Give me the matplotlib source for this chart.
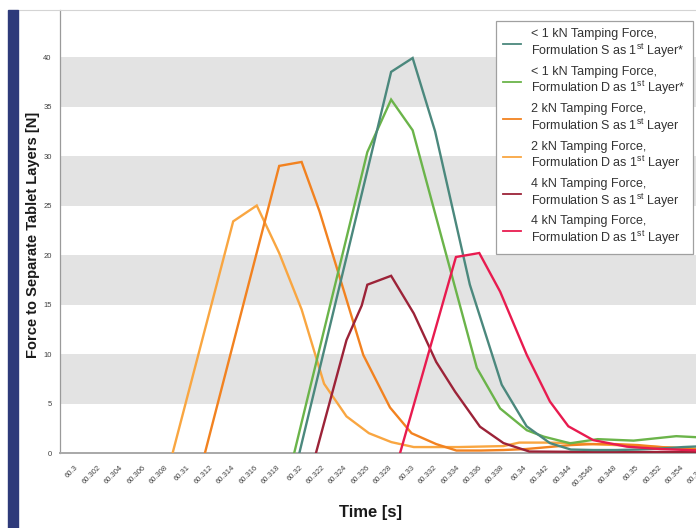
import numpy as np
import matplotlib
matplotlib.use("Agg")
import matplotlib.pyplot as plt
from matplotlib.patches import Rectangle
from matplotlib.lines import Line2D

plt.rcParams['font.family'] = ['Liberation Sans', 'DejaVu Sans']
plt.rcParams['mathtext.fontset'] = 'custom'
plt.rcParams['mathtext.rm'] = 'Liberation Sans'

# category labels on the time axis (as printed, incl. 60.3546)
tick_labels = ['60.3', '60.302', '60.304', '60.306', '60.308', '60.31', '60.312',
               '60.314', '60.316', '60.318', '60.32', '60.322', '60.324', '60.326',
               '60.328', '60.33', '60.332', '60.334', '60.336', '60.338', '60.34',
               '60.342', '60.344', '60.3546', '60.348', '60.35', '60.352', '60.354',
               '60.356']

# <1 kN, formulation S
t_1s = [60.3198, 60.32798, 60.3299, 60.3319, 60.335, 60.33784, 60.34006, 60.34214,
        60.344, 60.346, 60.348, 60.35, 60.352, 60.354, 60.356]
f_1s = [0, 38.5, 39.9, 32.5, 17.0, 6.9, 2.7, 1.0, 0.35, 0.3, 0.3, 0.35, 0.45, 0.6, 0.7]

# <1 kN, formulation D
t_1d = [60.31934, 60.32586, 60.32798, 60.3299, 60.33562, 60.3377, 60.34008, 60.3416,
        60.34394, 60.3464, 60.3496, 60.3534, 60.356]
f_1d = [0, 30.4, 35.7, 32.6, 8.6, 4.5, 2.3, 1.65, 0.98, 1.4, 1.25, 1.7, 1.55]

# 2 kN, formulation S
t_2s = [60.31138, 60.318, 60.32, 60.3216, 60.3236, 60.3255, 60.32788, 60.3298, 60.332,
        60.3338, 60.336, 60.338, 60.34, 60.342, 60.344, 60.346, 60.348, 60.35, 60.352,
        60.354, 60.356]
f_2s = [0, 29.0, 29.4, 24.4, 17.0, 9.9, 4.6, 2.0, 0.9, 0.25, 0.25, 0.3, 0.4, 0.6, 0.8,
        0.9, 0.9, 0.8, 0.6, 0.45, 0.3]

# 2 kN, formulation D
t_2d = [60.3085, 60.3139, 60.316, 60.318, 60.32, 60.322, 60.324, 60.326, 60.328, 60.33,
        60.332, 60.334, 60.336, 60.338, 60.3394, 60.342, 60.344, 60.346, 60.348, 60.35,
        60.352, 60.354, 60.356]
f_2d = [0, 23.4, 25.0, 20.2, 14.5, 7.0, 3.7, 2.0, 1.1, 0.6, 0.6, 0.6, 0.65, 0.7, 1.05,
        1.05, 1.0, 0.9, 0.8, 0.7, 0.6, 0.5, 0.4]

# 4 kN, formulation S
t_4s = [60.32128, 60.324, 60.32536, 60.32586, 60.32798, 60.33, 60.332, 60.33368,
        60.3359, 60.338, 60.3403, 60.344, 60.348, 60.352, 60.356]
f_4s = [0, 11.4, 14.9, 17.0, 17.9, 14.1, 9.2, 6.2, 2.66, 1.0, 0.15, 0.12, 0.1, 0.1, 0.08]

# 4 kN, formulation D
t_4d = [60.32878, 60.33376, 60.33584, 60.3377, 60.34008, 60.34214, 60.34378, 60.346,
        60.349, 60.352, 60.356]
f_4d = [0, 19.8, 20.2, 16.3, 9.9, 5.2, 2.7, 1.3, 0.64, 0.4, 0.23]

sup = r'1$^{\rm st}$'
labels = ['< 1 kN Tamping Force,\nFormulation S as ' + sup + ' Layer*',
          '< 1 kN Tamping Force,\nFormulation D as ' + sup + ' Layer*',
          '2 kN Tamping Force,\nFormulation S as ' + sup + ' Layer',
          '2 kN Tamping Force,\nFormulation D as ' + sup + ' Layer',
          '4 kN Tamping Force,\nFormulation S as ' + sup + ' Layer',
          '4 kN Tamping Force,\nFormulation D as ' + sup + ' Layer']
colors = ['#4b887d', '#6bb44a', '#f28220', '#f9a641', '#9c2338', '#e81b4f']
series = [(t_1s, f_1s), (t_1d, f_1d), (t_2s, f_2s), (t_2d, f_2d), (t_4s, f_4s), (t_4d, f_4d)]

W, H = 696, 528
fig = plt.figure(figsize=(W / 100, H / 100), dpi=100)

# axes placed in pixels: left 60, bottom at y=453, top at y=10, runs past right edge
x_left_px, x_right_px = 60, 716.6
ax = fig.add_axes([x_left_px / W, (H - 453) / H, (x_right_px - x_left_px) / W, 443 / H])

t0, dt = 60.3, 0.002
ax.set_xlim(t0 - 0.771 * dt, t0 + 28.5 * dt)
ax.set_ylim(0, 44.75)

for lo in [5, 15, 25, 35]:
    ax.axhspan(lo, lo + 5, color='#e3e3e3', lw=0, zorder=0)

order = [3, 2, 4, 1, 0, 5]
for i in order:
    t, f = series[i]
    ax.plot(t, f, color=colors[i], lw=1.7, zorder=3, solid_joinstyle='miter')

ax.set_xticks([t0 + dt * i for i in range(len(tick_labels))])
ax.set_xticklabels(tick_labels, rotation=45, ha='right', rotation_mode='anchor',
                   va='center', fontsize=5.5, color='#404040')
ax.set_yticks(range(0, 45, 5))
ax.set_yticklabels([str(v) for v in range(0, 45, 5)], fontsize=5.5, color='#404040')
ax.tick_params(axis='x', length=0, pad=10)
ax.tick_params(axis='y', length=0, pad=6)

for s in ['top', 'right']:
    ax.spines[s].set_visible(False)
ax.spines['left'].set_color('#9a9a9a')
ax.spines['left'].set_linewidth(0.9)
ax.spines['bottom'].set_color('#a8a8a8')
ax.spines['bottom'].set_linewidth(1.4)

# navy side bar and top frame line
fig.patches.append(Rectangle((8 / W, 0), 10 / W, (H - 10) / H, transform=fig.transFigure,
                             color='#2e3a7a', zorder=5))
fig.lines.append(Line2D([18 / W, 1], [(H - 10) / H] * 2, transform=fig.transFigure,
                        color='#d4d4d4', lw=0.8))

fig.text(33 / W, 1 - 235 / H, 'Force to Separate Tablet Layers [N]', rotation=90,
         ha='center', va='center', fontsize=10.5, fontweight='bold', color='#1a1a1a')
fig.text(370 / W, 1 - 512 / H, 'Time [s]', ha='center', va='center', fontsize=12,
         fontweight='bold', color='#1a1a1a')

handles = [Line2D([], [], color=c, lw=1.3) for c in colors]
leg = fig.legend(handles, labels, loc='upper right', bbox_to_anchor=(693 / W, 1 - 21 / H),
                 bbox_transform=fig.transFigure, fontsize=9, frameon=True, fancybox=False,
                 edgecolor='#a0a0a0', framealpha=1, borderaxespad=0, handlelength=1.45,
                 handletextpad=0.8, labelspacing=0.47, borderpad=0.6)
leg.get_frame().set_linewidth(0.9)
for txt in leg.get_texts():
    txt.set_color('#333333')
    txt.set_linespacing(1.1)

fig.savefig('out.png', dpi=100)
